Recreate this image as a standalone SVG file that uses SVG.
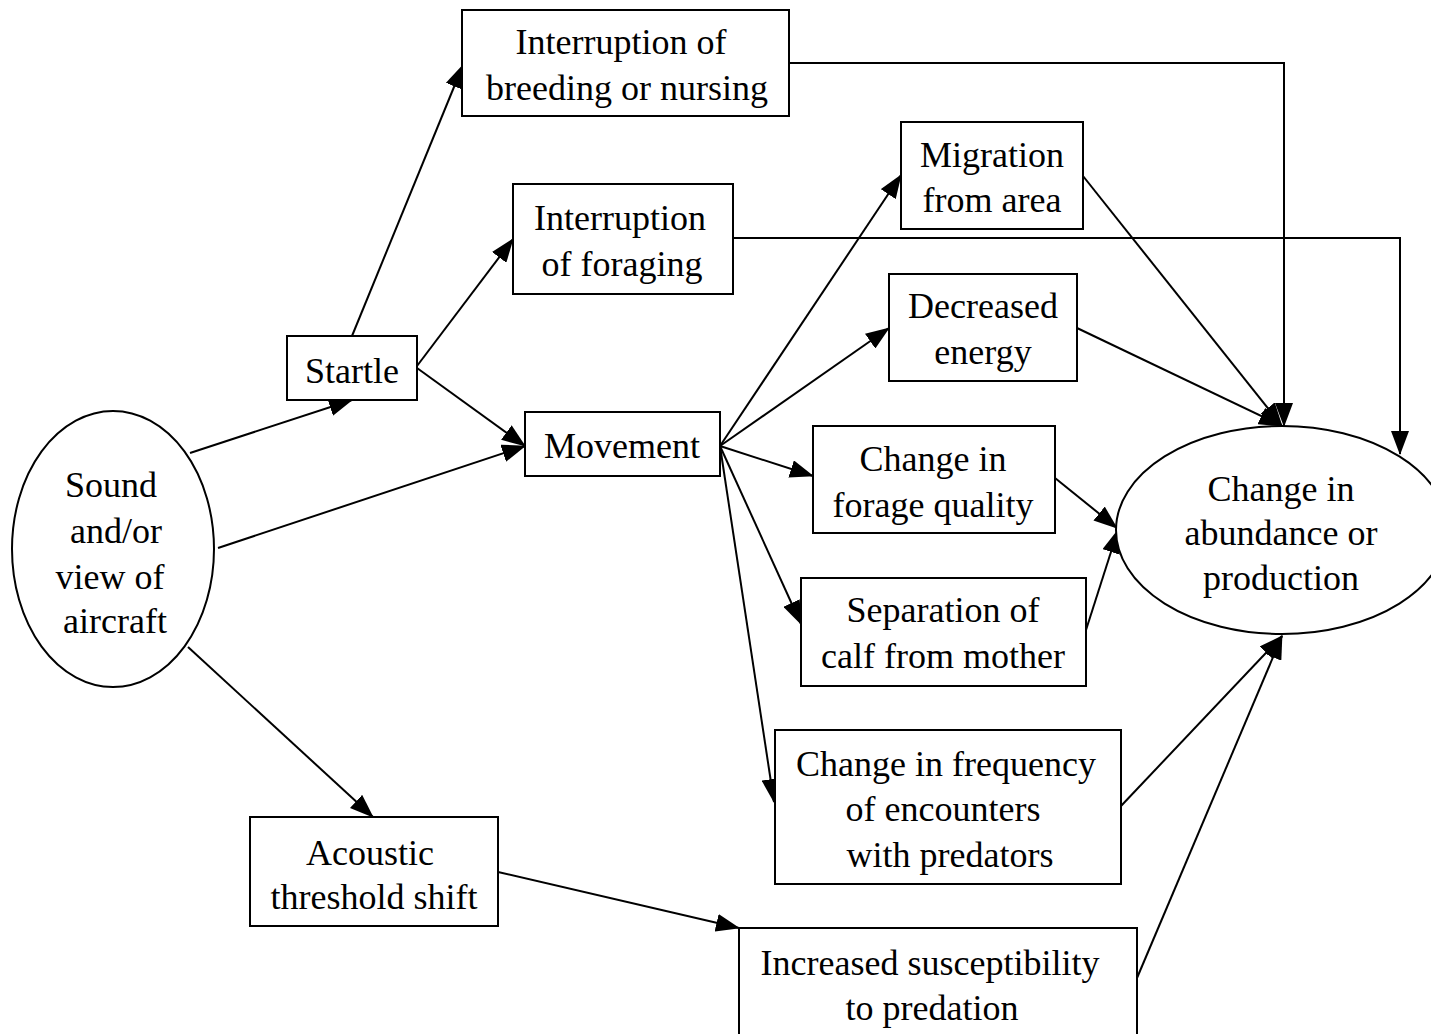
<svg xmlns="http://www.w3.org/2000/svg" width="1431" height="1034" viewBox="0 0 1431 1034">
<style>
.n{fill:#fff;stroke:#000;stroke-width:2}
.t{font-family:'Liberation Serif','DejaVu Serif',serif;font-size:36px;fill:#000;text-anchor:middle}
.e{fill:none;stroke:#000;stroke-width:2;marker-end:url(#ah)}
</style>
<defs>
<marker id="ah" markerUnits="userSpaceOnUse" markerWidth="24" markerHeight="18" refX="23" refY="9" orient="auto">
<path d="M0,0 L24,9 L0,18 z" fill="#000"/>
</marker>
</defs>
<rect width="1431" height="1034" fill="#fff"/>
<g id="connectors">
<path class="e" d="M190,453 L352,400"/>
<path class="e" d="M218,548 L525,446"/>
<path class="e" d="M188,647 L373,817"/>
<path class="e" d="M352,336 L463,65"/>
<path class="e" d="M417,366 L513,239"/>
<path class="e" d="M417,368 L525,446"/>
<path class="e" d="M720,446 L901,175"/>
<path class="e" d="M720,446 L889,328"/>
<path class="e" d="M720,446 L813,476"/>
<path class="e" d="M720,446 L801,624"/>
<path class="e" d="M720,446 L774,802"/>
<path class="e" d="M789,63 L1284,63 L1284,426"/>
<path class="e" d="M733,238 L1400,238 L1400,454"/>
<path class="e" d="M1083,176 L1282,426"/>
<path class="e" d="M1077,328 L1282,426"/>
<path class="e" d="M1055,478 L1117,528"/>
<path class="e" d="M1086,630 L1118,530"/>
<path class="e" d="M1121,806 L1282,636"/>
<path class="e" d="M1137,978 L1282,636"/>
<path class="e" d="M498,872 L739,928"/>
</g>
<g id="sound">
<ellipse class="n" cx="113" cy="549" rx="101" ry="138"/>
<text class="t" x="111" y="497">Sound</text>
<text class="t" x="116" y="543">and/or</text>
<text class="t" x="110" y="589">view of</text>
<text class="t" x="115" y="633">aircraft</text>
</g>
<g id="startle">
<rect class="n" x="287" y="336" width="130" height="64"/>
<text class="t" x="352" y="383">Startle</text>
</g>
<g id="breeding">
<rect class="n" x="462" y="10" width="327" height="106"/>
<text class="t" x="621" y="54">Interruption of</text>
<text class="t" x="627" y="100">breeding or nursing</text>
</g>
<g id="foraging">
<rect class="n" x="513" y="184" width="220" height="110"/>
<text class="t" x="620" y="230">Interruption</text>
<text class="t" x="622" y="276">of foraging</text>
</g>
<g id="movement">
<rect class="n" x="525" y="412" width="195" height="64"/>
<text class="t" x="622" y="458">Movement</text>
</g>
<g id="migration">
<rect class="n" x="901" y="122" width="182" height="107"/>
<text class="t" x="992" y="167">Migration</text>
<text class="t" x="992" y="212">from area</text>
</g>
<g id="energy">
<rect class="n" x="889" y="274" width="188" height="107"/>
<text class="t" x="983" y="318">Decreased</text>
<text class="t" x="983" y="364">energy</text>
</g>
<g id="forage">
<rect class="n" x="813" y="426" width="242" height="107"/>
<text class="t" x="933" y="471">Change in</text>
<text class="t" x="933" y="517">forage quality</text>
</g>
<g id="separation">
<rect class="n" x="801" y="578" width="285" height="108"/>
<text class="t" x="943" y="622">Separation of</text>
<text class="t" x="943" y="668">calf from mother</text>
</g>
<g id="frequency">
<rect class="n" x="775" y="730" width="346" height="154"/>
<text class="t" x="946" y="776">Change in frequency</text>
<text class="t" x="943" y="821">of encounters</text>
<text class="t" x="950" y="867">with predators</text>
</g>
<g id="acoustic">
<rect class="n" x="250" y="817" width="248" height="109"/>
<text class="t" x="370" y="865">Acoustic</text>
<text class="t" x="374" y="909">threshold shift</text>
</g>
<g id="susceptibility">
<rect class="n" x="739" y="928" width="398" height="120"/>
<text class="t" x="930" y="975">Increased susceptibility</text>
<text class="t" x="932" y="1020">to predation</text>
</g>
<g id="abundance">
<ellipse class="n" cx="1282" cy="530" rx="166" ry="104"/>
<text class="t" x="1281" y="501">Change in</text>
<text class="t" x="1281" y="545">abundance or</text>
<text class="t" x="1281" y="590">production</text>
</g>
</svg>
